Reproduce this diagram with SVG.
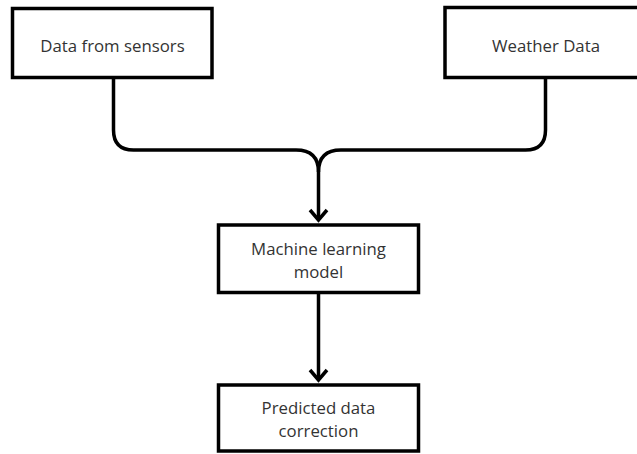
<svg xmlns="http://www.w3.org/2000/svg" width="637" height="454" viewBox="0 0 637 454">
  <style>
    .box { fill: #ffffff; stroke: #000000; stroke-width: 3.5; }
    .label { font-family: "Open Sans", "Liberation Sans", sans-serif; font-size: 16.8px; fill: #333333; text-anchor: middle; dominant-baseline: central; }
    .wire { fill: none; stroke: #000000; stroke-width: 3.5; stroke-linejoin: round; }
    .head { fill: none; stroke: #000000; stroke-width: 3.5; stroke-linejoin: miter; }
  </style>
  <rect width="637" height="454" fill="#ffffff"/>

  <g id="connectors">
    <path class="wire" d="M113.5 78 V130 Q113.5 150 133.5 150 H296 Q318.5 150 318.5 172"/>
    <path class="wire" d="M545.5 78 V130 Q545.5 150 525.5 150 H341 Q318.5 150 318.5 172"/>
    <path class="wire" d="M318.5 172 V220"/>
    <path class="wire" d="M318.5 293 V380"/>
    <path class="head" d="M310 210 L318.5 220 L327 210"/>
    <path class="head" d="M310 370 L318.5 380 L327 370"/>
  </g>

  <g id="sensors">
    <rect class="box" x="12.5" y="8.5" width="199.5" height="69"/>
    <text class="label" x="112.5" y="45">Data from sensors</text>
  </g>

  <g id="weather">
    <rect class="box" x="445" y="7.5" width="220" height="70"/>
    <text class="label" x="546" y="45">Weather Data</text>
  </g>

  <g id="model">
    <rect class="box" x="218.5" y="225" width="200" height="67.5"/>
    <text class="label" x="318.5" y="248">Machine learning</text>
    <text class="label" x="318.5" y="271">model</text>
  </g>

  <g id="prediction">
    <rect class="box" x="218.5" y="385" width="200" height="66"/>
    <text class="label" x="318.5" y="407">Predicted data</text>
    <text class="label" x="318.5" y="430">correction</text>
  </g>
</svg>
